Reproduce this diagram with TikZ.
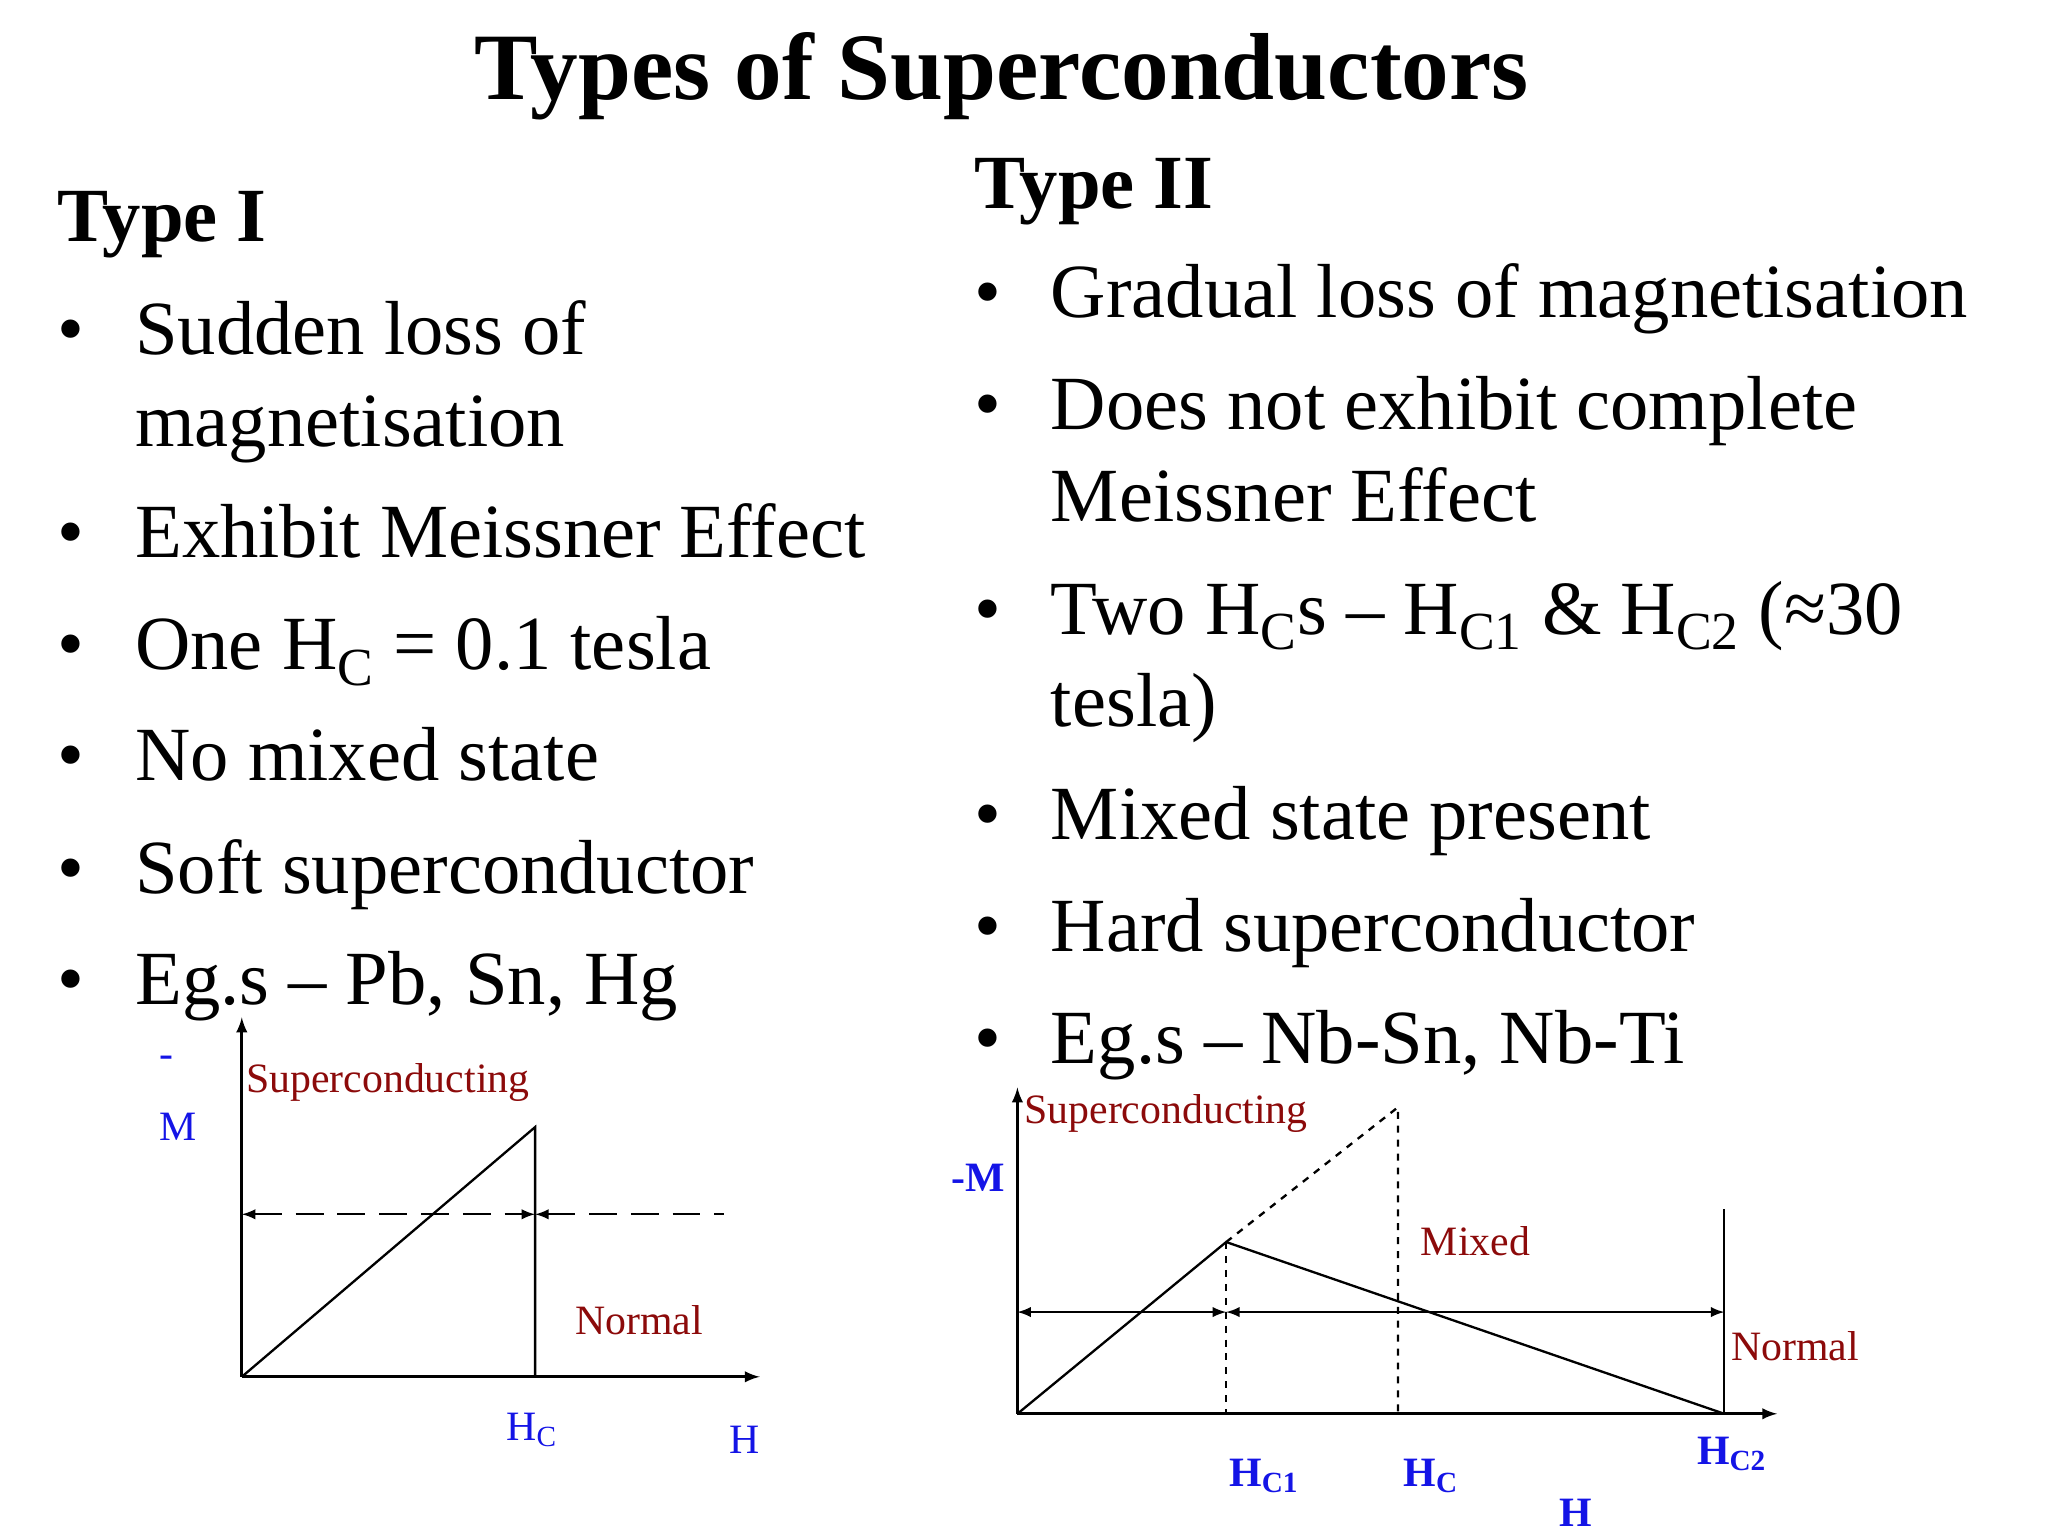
\documentclass[tikz,border=0pt]{standalone}
\usepackage{fontspec}
\setmainfont{Liberation Serif}
\definecolor{lblue}{RGB}{20,20,230}
\definecolor{lred}{RGB}{140,10,10}
\begin{document}
\begin{tikzpicture}[x=0.02cm,y=-0.02cm,
 body/.style={anchor=base west,inner sep=0,font=\fontsize{33}{40}\selectfont},
 head/.style={anchor=base west,inner sep=0,font=\fontsize{33}{40}\selectfont\bfseries},
 lab/.style={anchor=base west,inner sep=0,font=\fontsize{18}{22}\selectfont},
 ax/.style={line width=1.2pt,-latex},
 ln/.style={line width=1pt}]
\useasboundingbox (0,0) rectangle (1550,1163);
\node[anchor=base,inner sep=0,font=\fontsize{41}{50}\selectfont\bfseries] (t) at (758,75) {Types of Superconductors};
% Type I
\node[head] (h1) at (43,183) {Type I};
\foreach \y/\n in {268/a,422/b,507/c,591/d,676/e,760/f}
  \node[body] (b1\n) at (43,\y) {•};
\node[body] (t1a) at (102,268) {Sudden loss of};
\node[body] (t1a2) at (102,338) {magnetisation};
\node[body] (t1b) at (102,422) {Exhibit Meissner Effect};
\node[body] (t1c) at (102,507) {One H$_{\mathrm{C}}$ = 0.1 tesla};
\node[body] (t1d) at (102,591) {No mixed state};
\node[body] (t1e) at (102,676) {Soft superconductor};
\node[body] (t1f) at (102,760) {Eg.s – Pb, Sn, Hg};
% Type II
\node[head] (h2) at (737,158) {Type II};
\foreach \y/\n in {240/a,325/b,480/c,635/d,720/e,805/f}
  \node[body] (b2\n) at (737,\y) {•};
\node[body] (t2a) at (795,240) {Gradual loss of magnetisation};
\node[body] (t2b) at (795,325) {Does not exhibit complete};
\node[body] (t2b2) at (795,395) {Meissner Effect};
\node[body] (t2c) at (795,480) {Two H\textsubscript{C}s – H\textsubscript{C1} \& H\textsubscript{C2} (≈30};
\node[body] (t2c2) at (795,550) {tesla)};
\node[body] (t2d) at (795,635) {Mixed state present};
\node[body] (t2e) at (795,720) {Hard superconductor};
\node[body] (t2f) at (795,805) {Eg.s – Nb-Sn, Nb-Ti};
% Diagram 1
\coordinate (o1) at (183,1042); \coordinate (y1) at (183,770); \coordinate (x1) at (575,1042);
\coordinate (p1) at (405,853); \coordinate (q1) at (405,1042);
\coordinate (l1) at (183,919); \coordinate (m1) at (405,919); \coordinate (r1) at (548,919);
\draw[ax] (o1) -- (y1);
\draw[ax] (o1) -- (x1);
\draw[ln] (o1) -- (p1) -- (q1);
\draw[ln,dashed,dash pattern=on 12pt off 6pt,latex-latex] (l1) -- (m1);
\draw[ln,dashed,dash pattern=on 12pt off 6pt,latex-] (m1) -- (r1);
\node[lab,text=lred] (s1) at (186,827) {Superconducting};
\node[lab,text=lblue] (mm1) at (120,808) {-};
\node[lab,text=lblue] (m1l) at (120,863) {M};
\node[lab,text=lred] (n1) at (435,1010) {Normal};
\node[lab,text=lblue] (hc1) at (383,1090) {H\textsubscript{C}};
\node[lab,text=lblue] (hh1) at (552,1100) {H};
% Diagram 2
\coordinate (o2) at (770,1070); \coordinate (y2) at (770,823); \coordinate (x2) at (1345,1070);
\coordinate (k) at (928,940); \coordinate (kb) at (928,1070);
\coordinate (p2) at (1058,838); \coordinate (pb) at (1058,1070);
\coordinate (c2) at (1305,1070); \coordinate (c2t) at (1305,915);
\coordinate (a1) at (770,993); \coordinate (a2) at (928,993); \coordinate (a3) at (1305,993);
\draw[ax] (o2) -- (y2);
\draw[ax] (o2) -- (x2);
\draw[ln] (o2) -- (k) -- (c2);
\draw[ln,dashed] (k) -- (p2) -- (pb);
\draw[ln,dashed] (k) -- (kb);
\draw[ln] (c2t) -- (c2);
\draw[ln,latex-latex] (a1) -- (a2);
\draw[ln,latex-latex] (a2) -- (a3);
\node[lab,text=lred] (s2) at (775,850) {Superconducting};
\node[lab,text=lblue,font=\fontsize{18}{22}\selectfont\bfseries] (m2) at (720,902) {-M};
\node[lab,text=lred] (mx) at (1075,950) {Mixed};
\node[lab,text=lred] (n2) at (1310,1030) {Normal};
\node[lab,text=lblue,font=\fontsize{18}{22}\selectfont\bfseries] (hc21) at (930,1125) {H\textsubscript{C1}};
\node[lab,text=lblue,font=\fontsize{18}{22}\selectfont\bfseries] (hc20) at (1062,1125) {H\textsubscript{C}};
\node[lab,text=lblue,font=\fontsize{18}{22}\selectfont\bfseries] (hc22) at (1284,1108) {H\textsubscript{C2}};
\node[lab,text=lblue,font=\fontsize{18}{22}\selectfont\bfseries] (hh2) at (1180,1155) {H};
\end{tikzpicture}
\end{document}
